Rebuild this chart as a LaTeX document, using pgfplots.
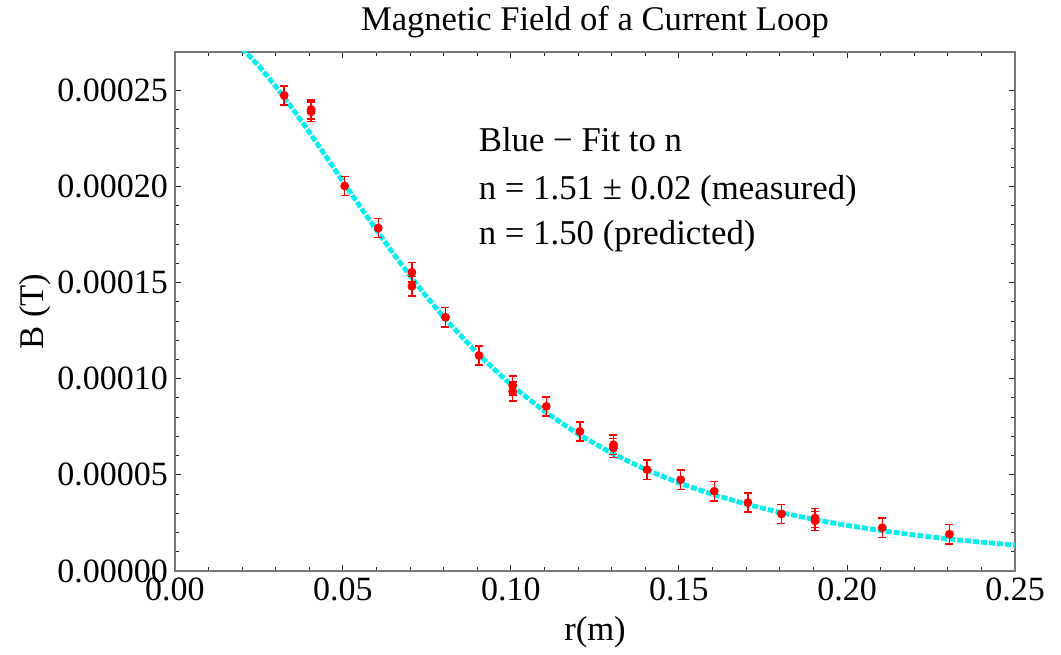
\documentclass[border=0pt]{standalone}
\usepackage{fontspec}
\setmainfont{Liberation Serif}
\usepackage{pgfplots}
\pgfplotsset{compat=1.18}
\definecolor{framegray}{RGB}{120,120,120}
\definecolor{fitcyan}{RGB}{0,240,240}
\definecolor{ptred}{RGB}{255,0,0}

\begin{document}
\begin{tikzpicture}
\begin{axis}[scale only axis,width=420pt,height=259.5pt,
xmin=0,xmax=0.25,ymin=0,ymax=0.00027,
xtick={0,0.05,0.10,0.15,0.20,0.25},
ytick={0,0.00005,0.0001,0.00015,0.0002,0.00025},
minor x tick num=4,minor y tick num=4,
tick align=inside,
major tick length=3pt,minor tick length=2pt,
tick style={black!85,line width=0.5pt},
axis line style={framegray,line width=0.8pt},
scaled x ticks=false,scaled y ticks=false,
/pgf/number format/assume math mode=true,
xticklabel style={/pgf/number format/fixed,/pgf/number format/fixed zerofill,/pgf/number format/precision=2},
yticklabel style={/pgf/number format/fixed,/pgf/number format/fixed zerofill,/pgf/number format/precision=5},
tick label style={font=\fontsize{17}{20}\selectfont},
xticklabel shift=0pt,yticklabel shift=0pt,
xlabel={r(m)},
xlabel style={font=\fontsize{17.3}{20}\selectfont,at={(axis description cs:0.5,-0.1175)},anchor=center},
ylabel={B (T)},
ylabel style={font=\fontsize{17.3}{20}\selectfont,at={(axis description cs:-0.167,0.5)},anchor=center},
clip mode=individual,
]
% fit curve
\addplot[fitcyan,line width=2.4pt,dash pattern=on 3pt off 1pt] coordinates {
(0.020,0.00027184) (0.025,0.00026265) (0.030,0.00025210) (0.035,0.00024051)
(0.040,0.00022821) (0.045,0.00021548) (0.050,0.00020260) (0.055,0.00018980)
(0.060,0.00017725) (0.065,0.00016511) (0.070,0.00015348) (0.075,0.00014243)
(0.080,0.00013201) (0.090,0.00011315) (0.100,0.00009686) (0.110,0.00008296)
(0.120,0.00007118) (0.130,0.00006124) (0.140,0.00005286) (0.150,0.00004580)
(0.160,0.00003983) (0.170,0.00003478) (0.180,0.00003050) (0.190,0.00002685)
(0.200,0.00002372) (0.210,0.00002105) (0.220,0.00001874) (0.230,0.00001674)
(0.240,0.00001501) (0.250,0.00001350)};
% measurements
\addplot[only marks,mark=*,mark size=2pt,color=ptred,draw=ptred,fill=ptred,
error bars/.cd,y dir=both,y explicit,
error bar style={solid,color=ptred,line width=0.7pt},
error mark options={rotate=90,color=ptred,mark size=2pt,line width=0.7pt}]
coordinates {
(0.0325,0.0002474) +- (0,0.000005)
(0.0405,0.0002401) +- (0,0.000005)
(0.0405,0.0002389) +- (0,0.000005)
(0.0505,0.0002003) +- (0,0.000005)
(0.0605,0.0001784) +- (0,0.000005)
(0.0705,0.0001554) +- (0,0.000005)
(0.0705,0.0001481) +- (0,0.000005)
(0.0805,0.0001320) +- (0,0.000005)
(0.0905,0.0001121) +- (0,0.000005)
(0.1005,0.0000965) +- (0,0.000005)
(0.1005,0.0000934) +- (0,0.000005)
(0.1105,0.0000856) +- (0,0.000005)
(0.1205,0.0000726) +- (0,0.000005)
(0.1305,0.0000657) +- (0,0.000005)
(0.1305,0.0000640) +- (0,0.000005)
(0.1405,0.0000527) +- (0,0.000005)
(0.1505,0.0000475) +- (0,0.000005)
(0.1605,0.0000415) +- (0,0.000005)
(0.1705,0.0000356) +- (0,0.000005)
(0.1805,0.0000297) +- (0,0.000005)
(0.1905,0.0000276) +- (0,0.000005)
(0.1905,0.0000261) +- (0,0.000005)
(0.2105,0.0000225) +- (0,0.000005)
(0.2305,0.0000191) +- (0,0.000005)};
\node[font=\fontsize{17.3}{20}\selectfont,inner sep=0pt] at (axis description cs:0.5,1.058) {Magnetic Field of a Current Loop};
\node[anchor=base west,font=\fontsize{17.4}{20}\selectfont,inner sep=0pt] at (axis cs:0.0903,0.0002181) {Blue − Fit to n};
\node[anchor=base west,font=\fontsize{17.4}{20}\selectfont,inner sep=0pt] at (axis cs:0.0903,0.0001933) {n = 1.51 ± 0.02 (measured)};
\node[anchor=base west,font=\fontsize{17.4}{20}\selectfont,inner sep=0pt] at (axis cs:0.0903,0.0001700) {n = 1.50 (predicted)};
\end{axis}
\path (current axis.south west) ++(-87.5pt,-38pt) coordinate (bbA);
\path (current axis.north east) ++(23pt,26pt) coordinate (bbB);
\path (bbA) rectangle (bbB);
\end{tikzpicture}
\end{document}
